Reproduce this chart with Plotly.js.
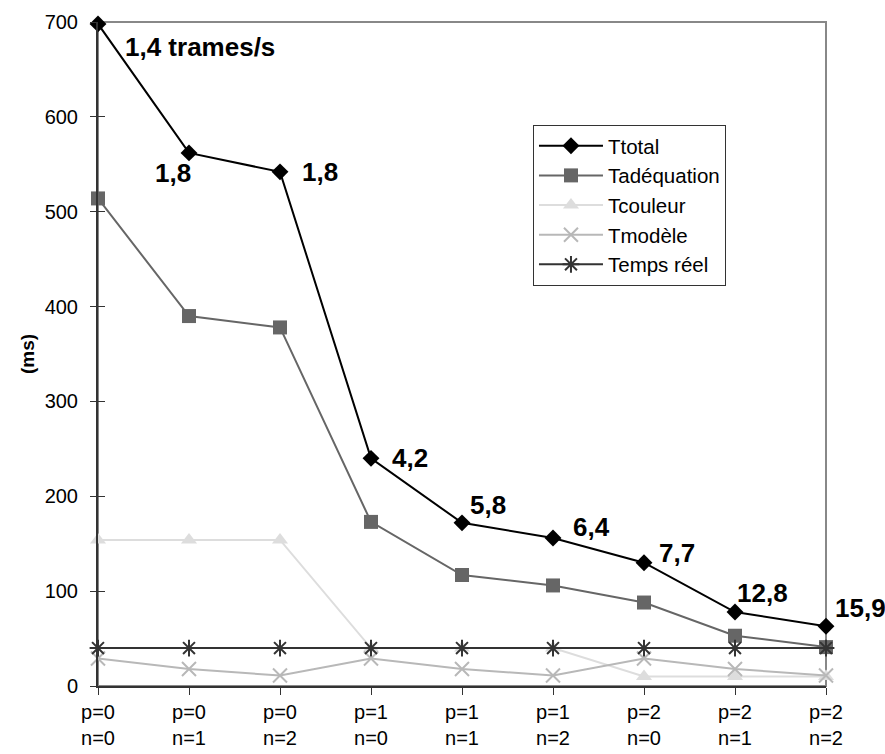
<!DOCTYPE html>
<html><head><meta charset="utf-8">
<script src="https://cdn.plot.ly/plotly-3.0.1.min.js"></script>
<style>body{margin:0;background:#fff}#c{width:885px;height:754px}</style>
</head><body><div id="c"></div>
<script>
const categories = ["p=0<br>n=0","p=0<br>n=1","p=0<br>n=2","p=1<br>n=0","p=1<br>n=1","p=1<br>n=2","p=2<br>n=0","p=2<br>n=1","p=2<br>n=2"];
const ttotal = [698, 562, 542, 240, 172, 156, 130, 78, 63];
const tadequation = [514, 390, 378, 173, 117, 106, 88, 53, 41];
const tcouleur = [154, 154, 154, 40, 40, 40, 10, 10, 10];
const tmodele = [29, 18, 11, 29, 18, 11, 29, 18, 11];
const tempsReel = [40, 40, 40, 40, 40, 40, 40, 40, 40];
const fpsLabels = ["1,4 trames/s","1,8","1,8","4,2","5,8","6,4","7,7","12,8","15,9"];

const xs = categories.map((_, i) => i);
const font = "Liberation Sans, Arial, sans-serif";

const traces = [
  {name:"Ttotal", x:xs, y:ttotal, mode:"lines+markers", line:{color:"#000", width:2}, cliponaxis:false,
   marker:{symbol:"diamond", size:13, color:"#000"}},
  {name:"Tadéquation", x:xs, y:tadequation, mode:"lines+markers", line:{color:"#666", width:2}, cliponaxis:false,
   marker:{symbol:"square", size:14, color:"#666"}},
  {name:"Tcouleur", x:xs, y:tcouleur, mode:"lines+markers", line:{color:"#ddd", width:2}, cliponaxis:false,
   marker:{symbol:"triangle-up", size:14, color:"#ddd"}},
  {name:"Tmodèle", x:xs, y:tmodele, mode:"lines+markers", line:{color:"#b8b8b8", width:2}, cliponaxis:false,
   marker:{symbol:"x-thin-open", size:14, color:"#b8b8b8", line:{width:2, color:"#b8b8b8"}}},
  {name:"Temps réel", x:xs, y:tempsReel, mode:"lines+markers", line:{color:"#333", width:2}, cliponaxis:false,
   marker:{symbol:"asterisk-open", size:14, color:"#333", line:{width:2, color:"#333"}}}
];

const offsets = [[25,-23,"left"],[4,-20,"right"],[20,0,"left"],[19,0,"left"],[6,18,"left"],[18,11,"left"],[13,10,"left"],[0,19,"left"],[7,18,"left"]];
const annotations = fpsLabels.map((t, i) => ({
  x: xs[i], y: ttotal[i], xref:"x", yref:"y", text:"<b>"+t+"</b>", showarrow:false,
  xanchor: offsets[i][2], yanchor:"middle", xshift: offsets[i][0], yshift: offsets[i][1],
  font:{family:font, size:26, color:"#000"}
}));

const layout = {
  width:885, height:754, paper_bgcolor:"#fff", plot_bgcolor:"#fff",
  margin:{l:98, r:59, t:22, b:68},
  showlegend:true,
  legend:{x:0.5975, y:0.845, xanchor:"left", yanchor:"top", bgcolor:"#fff", bordercolor:"#333", borderwidth:1,
    font:{family:font, size:20.5, color:"#000"}, tracegroupgap:0, itemwidth:64},
  xaxis:{range:[0,8], tickvals:xs, ticktext:categories, showgrid:false, zeroline:false,
    showline:true, linecolor:"#333", linewidth:2, ticks:"outside", ticklen:7, tickcolor:"#333", tickwidth:1,
    tickfont:{family:font, size:20, color:"#000"}, fixedrange:true},
  yaxis:{range:[0,700], dtick:100, showgrid:false, zeroline:false, showline:true, linecolor:"#333", linewidth:2,
    ticks:"outside", ticklen:6, tickcolor:"#333", tickwidth:1, ticklabelstandoff:8,
    tickfont:{family:font, size:20, color:"#000"},
    title:{text:"<b>(ms)</b>", font:{family:font, size:19, color:"#000"}, standoff:5}},
  yaxis2:{range:[0,700], dtick:100, overlaying:"y", side:"left", showgrid:false, zeroline:false, showline:false,
    ticks:"inside", ticklen:7, tickcolor:"#333", tickwidth:1, showticklabels:false},
  shapes:[{type:"rect", xref:"paper", yref:"paper", x0:0, x1:1, y0:0, y1:1, line:{color:"#888", width:2}, layer:"below"}],
  annotations: annotations
};
traces.push({x:[0], y:[0], yaxis:"y2", mode:"markers", marker:{opacity:0}, showlegend:false, hoverinfo:"skip"});
Plotly.newPlot("c", traces, layout, {displayModeBar:false, staticPlot:true});
</script></body></html>
